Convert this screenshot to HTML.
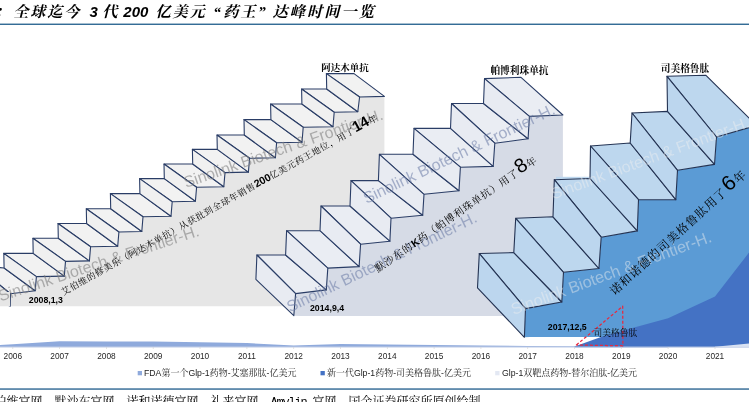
<!DOCTYPE html>
<html lang="zh"><head><meta charset="utf-8"><title>chart</title>
<style>
html,body{margin:0;padding:0;background:#fff;}
body{width:749px;height:402px;overflow:hidden;}
svg{display:block;will-change:transform;}
.k{font-family:"Liberation Serif","Noto Serif CJK SC",serif;}
.a{font-family:"Liberation Sans","Noto Sans CJK SC",sans-serif;}
.m{font-family:"Liberation Mono",monospace;}
</style></head><body>
<svg width="749" height="402" viewBox="0 0 749 402">
<rect width="749" height="402" fill="#fff"/>
<polygon points="384.4,96.4 359.6,97.0 357.8,111.7 334.2,112.2 333.0,126.7 303.2,127.2 302.0,142.3 276.6,142.8 275.4,157.7 249.6,158.2 248.4,172.1 225.0,172.6 223.8,186.7 196.6,187.2 195.4,201.3 172.2,201.8 171.0,216.3 143.0,216.8 141.8,231.5 118.9,232.0 117.7,246.2 90.6,246.7 89.4,260.9 65.5,261.4 64.3,276.1 36.4,276.6 35.2,290.7 10.4,293.7 10.2,306.3 8.0,306.3 0.0,306.3 0.0,306.3 384.4,306.3" fill="#e6e6e6"/>
<polygon points="326.4,73.6 354.0,73.6 384.4,96.4 359.6,97.0" fill="#f2f2f2" stroke="#2a3d66" stroke-width="1.1" stroke-linejoin="round"/>
<polygon points="301.6,89.0 326.7,89.0 357.8,111.7 334.2,112.2" fill="#f2f2f2" stroke="#2a3d66" stroke-width="1.1" stroke-linejoin="round"/>
<polygon points="270.6,104.0 301.9,104.0 333.0,126.7 303.2,127.2" fill="#f2f2f2" stroke="#2a3d66" stroke-width="1.1" stroke-linejoin="round"/>
<polygon points="244.0,119.6 270.9,119.6 302.0,142.3 276.6,142.8" fill="#f2f2f2" stroke="#2a3d66" stroke-width="1.1" stroke-linejoin="round"/>
<polygon points="217.0,135.0 244.3,135.0 275.4,157.7 249.6,158.2" fill="#f2f2f2" stroke="#2a3d66" stroke-width="1.1" stroke-linejoin="round"/>
<polygon points="192.4,149.4 217.3,149.4 248.4,172.1 225.0,172.6" fill="#f2f2f2" stroke="#2a3d66" stroke-width="1.1" stroke-linejoin="round"/>
<polygon points="164.0,164.0 192.7,164.0 223.8,186.7 196.6,187.2" fill="#f2f2f2" stroke="#2a3d66" stroke-width="1.1" stroke-linejoin="round"/>
<polygon points="139.6,178.6 164.3,178.6 195.4,201.3 172.2,201.8" fill="#f2f2f2" stroke="#2a3d66" stroke-width="1.1" stroke-linejoin="round"/>
<polygon points="110.4,193.6 139.9,193.6 171.0,216.3 143.0,216.8" fill="#f2f2f2" stroke="#2a3d66" stroke-width="1.1" stroke-linejoin="round"/>
<polygon points="86.3,208.8 110.7,208.8 141.8,231.5 118.9,232.0" fill="#f2f2f2" stroke="#2a3d66" stroke-width="1.1" stroke-linejoin="round"/>
<polygon points="58.0,223.5 86.6,223.5 117.7,246.2 90.6,246.7" fill="#f2f2f2" stroke="#2a3d66" stroke-width="1.1" stroke-linejoin="round"/>
<polygon points="32.9,238.2 58.3,238.2 89.4,260.9 65.5,261.4" fill="#f2f2f2" stroke="#2a3d66" stroke-width="1.1" stroke-linejoin="round"/>
<polygon points="3.8,253.4 33.2,253.4 64.3,276.1 36.4,276.6" fill="#f2f2f2" stroke="#2a3d66" stroke-width="1.1" stroke-linejoin="round"/>
<polygon points="-24.0,265.5 4.1,268.0 35.2,290.7 10.4,293.7" fill="#f2f2f2" stroke="#2a3d66" stroke-width="1.1" stroke-linejoin="round"/>
<polygon points="326.4,73.6 359.6,97.0 357.8,111.7 326.7,89.0" fill="#f0f0f0" stroke="#2a3d66" stroke-width="1.1" stroke-linejoin="round"/>
<polygon points="301.6,89.0 334.2,112.2 333.0,126.7 301.9,104.0" fill="#f0f0f0" stroke="#2a3d66" stroke-width="1.1" stroke-linejoin="round"/>
<polygon points="270.6,104.0 303.2,127.2 302.0,142.3 270.9,119.6" fill="#f0f0f0" stroke="#2a3d66" stroke-width="1.1" stroke-linejoin="round"/>
<polygon points="244.0,119.6 276.6,142.8 275.4,157.7 244.3,135.0" fill="#f0f0f0" stroke="#2a3d66" stroke-width="1.1" stroke-linejoin="round"/>
<polygon points="217.0,135.0 249.6,158.2 248.4,172.1 217.3,149.4" fill="#f0f0f0" stroke="#2a3d66" stroke-width="1.1" stroke-linejoin="round"/>
<polygon points="192.4,149.4 225.0,172.6 223.8,186.7 192.7,164.0" fill="#f0f0f0" stroke="#2a3d66" stroke-width="1.1" stroke-linejoin="round"/>
<polygon points="164.0,164.0 196.6,187.2 195.4,201.3 164.3,178.6" fill="#f0f0f0" stroke="#2a3d66" stroke-width="1.1" stroke-linejoin="round"/>
<polygon points="139.6,178.6 172.2,201.8 171.0,216.3 139.9,193.6" fill="#f0f0f0" stroke="#2a3d66" stroke-width="1.1" stroke-linejoin="round"/>
<polygon points="110.4,193.6 143.0,216.8 141.8,231.5 110.7,208.8" fill="#f0f0f0" stroke="#2a3d66" stroke-width="1.1" stroke-linejoin="round"/>
<polygon points="86.3,208.8 118.9,232.0 117.7,246.2 86.6,223.5" fill="#f0f0f0" stroke="#2a3d66" stroke-width="1.1" stroke-linejoin="round"/>
<polygon points="58.0,223.5 90.6,246.7 89.4,260.9 58.3,238.2" fill="#f0f0f0" stroke="#2a3d66" stroke-width="1.1" stroke-linejoin="round"/>
<polygon points="32.9,238.2 65.5,261.4 64.3,276.1 33.2,253.4" fill="#f0f0f0" stroke="#2a3d66" stroke-width="1.1" stroke-linejoin="round"/>
<polygon points="3.8,253.4 36.4,276.6 35.2,290.7 4.1,268.0" fill="#f0f0f0" stroke="#2a3d66" stroke-width="1.1" stroke-linejoin="round"/>
<polygon points="-24.0,265.5 10.4,293.7 10.2,306.3 -24.0,290.0" fill="#e6e6e6" stroke="#2a3d66" stroke-width="1.1" stroke-linejoin="round"/>
<rect x="0" y="292" width="10" height="14.3" fill="#e6e6e6"/>
<polygon points="562.9,115.0 529.4,116.4 528.1,138.8 494.8,143.2 493.2,166.4 460.4,167.2 459.0,190.8 424.0,194.3 422.7,215.3 391.0,218.2 389.9,241.2 360.6,244.2 359.1,266.6 327.8,268.1 326.3,289.9 295.6,293.6 293.8,315.7 300.0,315.9 562.9,315.9" fill="#d6dbe6"/>
<polygon points="484.5,78.6 521.0,77.3 562.9,115.0 529.4,116.4" fill="#eaedf3" stroke="#2a3d66" stroke-width="1.1" stroke-linejoin="round"/>
<polygon points="451.5,103.5 483.5,103.5 528.1,138.8 494.8,143.2" fill="#eaedf3" stroke="#2a3d66" stroke-width="1.1" stroke-linejoin="round"/>
<polygon points="414.0,128.4 450.5,128.4 493.2,166.4 460.4,167.2" fill="#eaedf3" stroke="#2a3d66" stroke-width="1.1" stroke-linejoin="round"/>
<polygon points="379.4,154.3 413.0,154.3 459.0,190.8 424.0,194.3" fill="#eaedf3" stroke="#2a3d66" stroke-width="1.1" stroke-linejoin="round"/>
<polygon points="351.0,180.6 378.4,180.6 422.7,215.3 391.0,218.2" fill="#eaedf3" stroke="#2a3d66" stroke-width="1.1" stroke-linejoin="round"/>
<polygon points="321.0,206.0 350.0,206.0 389.9,241.2 360.6,244.2" fill="#eaedf3" stroke="#2a3d66" stroke-width="1.1" stroke-linejoin="round"/>
<polygon points="286.6,230.7 320.0,230.7 359.1,266.6 327.8,268.1" fill="#eaedf3" stroke="#2a3d66" stroke-width="1.1" stroke-linejoin="round"/>
<polygon points="256.9,255.0 285.6,255.0 326.3,289.9 295.6,293.6" fill="#eaedf3" stroke="#2a3d66" stroke-width="1.1" stroke-linejoin="round"/>
<polygon points="484.5,78.6 529.4,116.4 528.1,138.8 483.5,103.5" fill="#e8ebf2" stroke="#2a3d66" stroke-width="1.1" stroke-linejoin="round"/>
<polygon points="451.5,103.5 494.8,143.2 493.2,166.4 450.5,128.4" fill="#e8ebf2" stroke="#2a3d66" stroke-width="1.1" stroke-linejoin="round"/>
<polygon points="414.0,128.4 460.4,167.2 459.0,190.8 413.0,154.3" fill="#e8ebf2" stroke="#2a3d66" stroke-width="1.1" stroke-linejoin="round"/>
<polygon points="379.4,154.3 424.0,194.3 422.7,215.3 378.4,180.6" fill="#e8ebf2" stroke="#2a3d66" stroke-width="1.1" stroke-linejoin="round"/>
<polygon points="351.0,180.6 391.0,218.2 389.9,241.2 350.0,206.0" fill="#e8ebf2" stroke="#2a3d66" stroke-width="1.1" stroke-linejoin="round"/>
<polygon points="321.0,206.0 360.6,244.2 359.1,266.6 320.0,230.7" fill="#e8ebf2" stroke="#2a3d66" stroke-width="1.1" stroke-linejoin="round"/>
<polygon points="286.6,230.7 327.8,268.1 326.3,289.9 285.6,255.0" fill="#e8ebf2" stroke="#2a3d66" stroke-width="1.1" stroke-linejoin="round"/>
<polygon points="256.9,255.0 295.6,293.6 293.8,315.7 255.9,279.3" fill="#e8ebf2" stroke="#2a3d66" stroke-width="1.1" stroke-linejoin="round"/>
<rect x="556" y="176.8" width="34" height="5" fill="#bdd7ee"/>
<polygon points="756.5,125.4 716.5,137.0 714.5,164.4 677.5,170.3 675.8,199.7 638.5,199.7 637.3,230.9 601.2,237.2 598.9,268.5 563.5,272.3 561.8,302.0 525.5,308.6 524.4,337.3 530.0,337.1 760.0,337.1" fill="#5b9bd5"/>
<polygon points="667.0,76.3 705.7,75.2 756.5,125.4 716.5,137.0" fill="#bdd7ee" stroke="#243353" stroke-width="1.1" stroke-linejoin="round"/>
<polygon points="632.0,113.0 667.5,111.4 714.5,164.4 677.5,170.3" fill="#bdd7ee" stroke="#243353" stroke-width="1.1" stroke-linejoin="round"/>
<polygon points="590.5,146.0 630.2,143.0 675.8,199.7 638.5,199.7" fill="#bdd7ee" stroke="#243353" stroke-width="1.1" stroke-linejoin="round"/>
<polygon points="554.3,179.7 590.0,178.5 637.3,230.9 601.2,237.2" fill="#bdd7ee" stroke="#243353" stroke-width="1.1" stroke-linejoin="round"/>
<polygon points="515.7,218.3 553.0,216.8 598.9,268.5 563.5,272.3" fill="#bdd7ee" stroke="#243353" stroke-width="1.1" stroke-linejoin="round"/>
<polygon points="479.3,253.5 513.8,252.6 561.8,302.0 525.5,308.6" fill="#bdd7ee" stroke="#243353" stroke-width="1.1" stroke-linejoin="round"/>
<polygon points="667.0,76.3 716.5,137.0 714.5,164.4 667.5,111.4" fill="#bcd6ee" stroke="#243353" stroke-width="1.1" stroke-linejoin="round"/>
<polygon points="632.0,113.0 677.5,170.3 675.8,199.7 630.2,143.0" fill="#bcd6ee" stroke="#243353" stroke-width="1.1" stroke-linejoin="round"/>
<polygon points="590.5,146.0 638.5,199.7 637.3,230.9 590.0,178.5" fill="#bcd6ee" stroke="#243353" stroke-width="1.1" stroke-linejoin="round"/>
<polygon points="554.3,179.7 601.2,237.2 598.9,268.5 553.0,216.8" fill="#bcd6ee" stroke="#243353" stroke-width="1.1" stroke-linejoin="round"/>
<polygon points="515.7,218.3 563.5,272.3 561.8,302.0 513.8,252.6" fill="#bcd6ee" stroke="#243353" stroke-width="1.1" stroke-linejoin="round"/>
<polygon points="479.3,253.5 525.5,308.6 524.4,337.3 477.5,287.8" fill="#bcd6ee" stroke="#243353" stroke-width="1.1" stroke-linejoin="round"/>
<polygon points="-1.2,347.2 -1.2,345.0 12.8,344.3 59.6,341.3 106.4,341.6 153.2,341.6 200.0,342.2 246.9,343.0 293.7,345.6 340.5,344.0 387.3,344.6 434.1,345.0 480.9,345.4 527.7,345.9 574.5,346.2 621.3,346.4 668.1,346.5 668.1,347.2" fill="#8faadc"/>
<polygon points="574.5,347.2 574.5,346.4 600.3,337.2 621.3,331.0 668.1,318.2 715.0,296.6 761.8,236.0 761.8,347.2" fill="#4472c4"/>
<polygon points="715.0,347.2 715.0,346.8 761.8,342.2 761.8,347.2" fill="#dae3f3"/>
<rect x="0" y="346.6" width="749" height="0.7" fill="#d0d7e8"/>
<rect x="12.4" y="347.2" width="0.8" height="1.6" fill="#d4d4d4"/>
<text class="a" x="12.8" y="358.8" font-size="8.3" text-anchor="middle" fill="#262626">2006</text>
<rect x="59.2" y="347.2" width="0.8" height="1.6" fill="#d4d4d4"/>
<text class="a" x="59.6" y="358.8" font-size="8.3" text-anchor="middle" fill="#262626">2007</text>
<rect x="106.0" y="347.2" width="0.8" height="1.6" fill="#d4d4d4"/>
<text class="a" x="106.4" y="358.8" font-size="8.3" text-anchor="middle" fill="#262626">2008</text>
<rect x="152.8" y="347.2" width="0.8" height="1.6" fill="#d4d4d4"/>
<text class="a" x="153.2" y="358.8" font-size="8.3" text-anchor="middle" fill="#262626">2009</text>
<rect x="199.6" y="347.2" width="0.8" height="1.6" fill="#d4d4d4"/>
<text class="a" x="200.0" y="358.8" font-size="8.3" text-anchor="middle" fill="#262626">2010</text>
<rect x="246.5" y="347.2" width="0.8" height="1.6" fill="#d4d4d4"/>
<text class="a" x="246.9" y="358.8" font-size="8.3" text-anchor="middle" fill="#262626">2011</text>
<rect x="293.3" y="347.2" width="0.8" height="1.6" fill="#d4d4d4"/>
<text class="a" x="293.7" y="358.8" font-size="8.3" text-anchor="middle" fill="#262626">2012</text>
<rect x="340.1" y="347.2" width="0.8" height="1.6" fill="#d4d4d4"/>
<text class="a" x="340.5" y="358.8" font-size="8.3" text-anchor="middle" fill="#262626">2013</text>
<rect x="386.9" y="347.2" width="0.8" height="1.6" fill="#d4d4d4"/>
<text class="a" x="387.3" y="358.8" font-size="8.3" text-anchor="middle" fill="#262626">2014</text>
<rect x="433.7" y="347.2" width="0.8" height="1.6" fill="#d4d4d4"/>
<text class="a" x="434.1" y="358.8" font-size="8.3" text-anchor="middle" fill="#262626">2015</text>
<rect x="480.5" y="347.2" width="0.8" height="1.6" fill="#d4d4d4"/>
<text class="a" x="480.9" y="358.8" font-size="8.3" text-anchor="middle" fill="#262626">2016</text>
<rect x="527.3" y="347.2" width="0.8" height="1.6" fill="#d4d4d4"/>
<text class="a" x="527.7" y="358.8" font-size="8.3" text-anchor="middle" fill="#262626">2017</text>
<rect x="574.1" y="347.2" width="0.8" height="1.6" fill="#d4d4d4"/>
<text class="a" x="574.5" y="358.8" font-size="8.3" text-anchor="middle" fill="#262626">2018</text>
<rect x="620.9" y="347.2" width="0.8" height="1.6" fill="#d4d4d4"/>
<text class="a" x="621.3" y="358.8" font-size="8.3" text-anchor="middle" fill="#262626">2019</text>
<rect x="667.7" y="347.2" width="0.8" height="1.6" fill="#d4d4d4"/>
<text class="a" x="668.1" y="358.8" font-size="8.3" text-anchor="middle" fill="#262626">2020</text>
<rect x="714.6" y="347.2" width="0.8" height="1.6" fill="#d4d4d4"/>
<text class="a" x="715.0" y="358.8" font-size="8.3" text-anchor="middle" fill="#262626">2021</text>
<polygon points="576.4,345 622.7,306.2 622.9,345.8" fill="none" stroke="#e8283e" stroke-width="1.25" stroke-dasharray="3,2" stroke-linejoin="round"/>
<text class="a" transform="translate(0.5,301.5) rotate(-18.3)" font-size="16.05" fill="#808080" fill-opacity="0.6">Sinolink Biotech &amp; Frontier-H.</text>
<text class="a" transform="translate(186,188) rotate(-19.2)" font-size="16.0" fill="#808080" fill-opacity="0.6">Sinolink Biotech &amp; Frontier-H.</text>
<text class="a" transform="translate(290,312.5) rotate(-25.85)" font-size="15.95" fill="#7080a8" fill-opacity="0.58">Sinolink Biotech &amp; Frontier-H.</text>
<text class="a" transform="translate(366.4,203.9) rotate(-25.5)" font-size="16.05" fill="#7080a8" fill-opacity="0.58">Sinolink Biotech &amp; Frontier-H.</text>
<text class="a" transform="translate(513.5,315) rotate(-20.3)" font-size="16.2" fill="#f0f0f0" fill-opacity="0.45">Sinolink Biotech &amp; Frontier-H.</text>
<text class="a" transform="translate(553.5,199.5) rotate(-20.3)" font-size="16.0" fill="#f0f0f0" fill-opacity="0.45">Sinolink Biotech &amp; Frontier-H.</text>
<text class="k" transform="translate(63.5,295.5) rotate(-29.15)" font-size="8.92" letter-spacing="0.7" fill="#000">艾伯维的修美乐（阿达木单抗）从获批到全球年销售<tspan class="a" letter-spacing="0" font-weight="bold" font-size="10.5">200</tspan>亿美元药王地位，用了<tspan class="a" letter-spacing="0" font-weight="bold" font-size="15">14</tspan>年</text>
<text class="k" transform="translate(378,272.7) rotate(-34.7)" font-size="10.2" letter-spacing="0.8" fill="#000">默沙东的<tspan class="a" letter-spacing="0" font-weight="bold" font-size="10.5">K</tspan>药（帕博利珠单抗）用了<tspan class="a" letter-spacing="0" font-size="20" dx="0.3">8</tspan>年</text>
<text class="k" transform="translate(614.5,295.8) rotate(-42.1)" font-size="11.8" letter-spacing="0.95" fill="#000">诺和诺德的司美格鲁肽用了<tspan class="a" letter-spacing="0" font-size="21" dx="1.5">6</tspan><tspan dx="0.5">年</tspan></text>
<text class="k" x="345" y="70.7" font-size="9.5" font-weight="bold" text-anchor="middle">阿达木单抗</text>
<text class="k" x="519.5" y="73.5" font-size="9.7" font-weight="bold" text-anchor="middle">帕博利珠单抗</text>
<text class="k" x="685" y="71.5" font-size="9.7" font-weight="bold" text-anchor="middle">司美格鲁肽</text>
<text class="k" x="615.3" y="336" font-size="8.75" text-anchor="middle">司美格鲁肽</text>
<text class="a" x="28.8" y="303.2" font-size="8.75" font-weight="bold">2008,1,3</text>
<text class="a" x="310" y="310.8" font-size="8.75" font-weight="bold">2014,9,4</text>
<text class="a" x="547.8" y="329.8" font-size="8.75" font-weight="bold">2017,12,5</text>
<rect x="137.7" y="371" width="4.3" height="4.3" fill="#8faadc"/>
<text class="k" x="144.0" y="376" font-size="9" fill="#222"><tspan class="a" font-size="8.7">FDA</tspan>第一个<tspan class="a" font-size="8.7">Glp-1</tspan>药物<tspan class="a" font-size="8.7">-</tspan>艾塞那肽<tspan class="a" font-size="8.7">-</tspan>亿美元</text>
<rect x="320.5" y="371" width="4.3" height="4.3" fill="#4472c4"/>
<text class="k" x="326.9" y="376" font-size="9" fill="#222">新一代<tspan class="a" font-size="8.7">Glp-1</tspan>药物<tspan class="a" font-size="8.7">-</tspan>司美格鲁肽<tspan class="a" font-size="8.7">-</tspan>亿美元</text>
<rect x="495.2" y="371" width="4.3" height="4.3" fill="#e3e8f3"/>
<text class="k" x="502.0" y="376" font-size="9" fill="#222"><tspan class="a" font-size="8.7">Glp-1</tspan>双靶点药物<tspan class="a" font-size="8.7">-</tspan>替尔泊肽<tspan class="a" font-size="8.7">-</tspan>亿美元</text>
<text class="k" x="-5.6" y="17.2" font-size="15.2" font-weight="bold" font-style="italic" letter-spacing="1.8" fill="#000">：</text>
<text class="k" x="13.3" y="17.2" font-size="15.2" font-weight="bold" font-style="italic" letter-spacing="1.8" fill="#000">全球迄今</text>
<text class="a" x="89.4" y="17.2" font-size="15" font-weight="bold" font-style="italic" letter-spacing="0" fill="#000">3</text>
<text class="k" x="102.15" y="17.2" font-size="15.2" font-weight="bold" font-style="italic" letter-spacing="1.8" fill="#000">代</text>
<text class="a" x="123.3" y="17.2" font-size="15" font-weight="bold" font-style="italic" letter-spacing="0" fill="#000">200</text>
<text class="k" x="155.5" y="17.2" font-size="15.2" font-weight="bold" font-style="italic" letter-spacing="1.8" fill="#000">亿美元</text>
<text class="k" x="213.2" y="17.2" font-size="15.2" font-weight="bold" font-style="italic" letter-spacing="0" fill="#000">“</text>
<text class="k" x="223.2" y="17.2" font-size="15.2" font-weight="bold" font-style="italic" letter-spacing="1.8" fill="#000">药王</text>
<text class="k" x="258.2" y="17.2" font-size="15.2" font-weight="bold" font-style="italic" letter-spacing="0" fill="#000">”</text>
<text class="k" x="272.4" y="17.2" font-size="15.2" font-weight="bold" font-style="italic" letter-spacing="2.1" fill="#000">达峰时间一览</text>
<rect x="0" y="23.6" width="749" height="1.3" fill="#1f5c8b"/>
<rect x="0" y="388.4" width="749" height="1.3" fill="#1f5c8b"/>
<text class="k" x="-5.5" y="405.7" font-size="12" fill="#000">伯维官网、默沙东官网、诺和诺德官网、礼来官网、<tspan class="m" font-size="12" letter-spacing="-1.2">Amylin </tspan>官网、国金证券研究所原创绘制</text>
</svg></body></html>
